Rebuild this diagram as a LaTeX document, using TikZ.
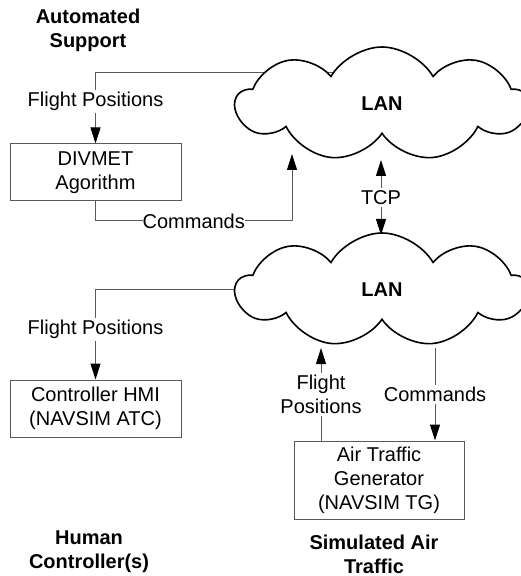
\documentclass[tikz,border=0pt]{standalone}
\usepackage{fontspec}
\setmainfont{Liberation Sans}
\usepackage{tikz}
\usetikzlibrary{arrows.meta, positioning, shapes.symbols, backgrounds}

\begin{document}
\begin{tikzpicture}[x=0.5pt, y=-0.5pt, font=\fontsize{10}{12}\selectfont,
    lan/.style={cloud, cloud puffs=9, cloud puff arc=120, draw=black, line width=0.8pt,
        fill=white, minimum width=146pt, minimum height=57pt, font=\fontsize{10}{12}\selectfont\bfseries},
    box/.style={draw=black!65, line width=0.5pt, align=center, inner sep=0pt},
    conn/.style={draw=black!65, line width=0.5pt},
    tip/.style={-{Triangle[length=8pt, width=5pt, color=black]}},
    lbl/.style={fill=white, inner sep=1pt, align=center},
    title/.style={align=center, font=\fontsize{10}{12}\selectfont\bfseries}]
    \useasboundingbox (0,0) rectangle (520,576);

    % Titles
    \node[title] (autotitle) at (88,30) {Automated\\Support};
    \node[title] (humantitle) at (89,552) {Human\\Controller(s)};
    \node[title] (simtitle) at (374,554) {Simulated Air\\Traffic};

    % Clouds
    \node[lan] (lanA) at (382,104) {LAN};
    \node[lan] (lanB) at (382,290) {LAN};

    % Boxes
    \node[box, minimum width=85.5pt, minimum height=28.5pt] (divmet) at (95.5,172.5) {DIVMET\\Agorithm};
    \node[box, minimum width=85.5pt, minimum height=28.5pt] (hmi) at (95.5,408.5) {Controller HMI\\(NAVSIM ATC)};
    \node[box, minimum width=85pt, minimum height=39pt] (atg) at (379,480) {Air Traffic\\Generator\\(NAVSIM TG)};

    % Connectors
    \begin{pgfonlayer}{background}
        \draw[conn, tip] (lanA.center |- 0,73) -| (divmet.north)
            node[lbl, pos=0.7] (fpA) {Flight Positions};
        \draw[conn, tip] (divmet.south) |- (292,221)
            node[lbl, pos=0.75, inner sep=0pt] (cmdA) {Commands} -- (292,154);
        \draw[conn, {Triangle[length=8pt, width=5pt, color=black]}-{Triangle[length=8pt, width=5pt, color=black]}]
            (381,160) -- (381,235) node[lbl, midway] (tcp) {TCP};
        \draw[conn, tip] (lanB.center |- 0,290) -| (hmi.north)
            node[lbl, pos=0.72] (fpB) {Flight Positions};
    \end{pgfonlayer}
    \draw[conn, tip] (atg.north -| 321,0) -- (321,348)
        node[lbl, pos=0.5] (fpC) {Flight\\Positions};
    \draw[conn, tip] (435,348) -- (atg.north -| 435,0)
        node[lbl, pos=0.5] (cmdB) {Commands};
\end{tikzpicture}
\end{document}
